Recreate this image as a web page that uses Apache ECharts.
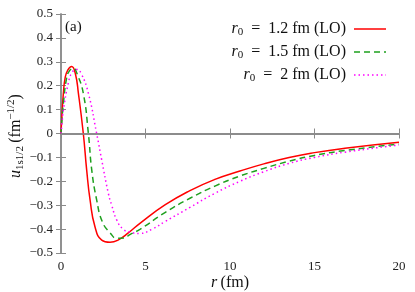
<!DOCTYPE html>
<html><head><meta charset="utf-8">
<script src="https://cdn.jsdelivr.net/npm/echarts@6/dist/echarts.min.js"></script>
<style>html,body{margin:0;padding:0;background:#fff}#c{width:415px;height:292px}</style>
</head><body><div id="c"></div>
<script>
// ---- data ----
const xTicks = [0, 5, 10, 15, 20];
const yTicks = [-0.5, -0.4, -0.3, -0.2, -0.1, 0, 0.1, 0.2, 0.3, 0.4, 0.5];
const seriesNames = ['1.2', '1.5', '2'];

const r_12 = [0, 0.07, 0.14, 0.24, 0.4, 0.63, 0.85, 1.03, 1.32, 1.52, 1.72, 2.01, 2.41, 2.9, 3.4, 4.0, 4.67, 6.15, 7.63, 9.11, 10.59, 12, 13.5, 15, 16.8, 20];
const u_12 = [0, 0.095, 0.168, 0.231, 0.265, 0.28, 0.25, 0.168, 0, -0.153, -0.278, -0.39, -0.446, -0.455, -0.445, -0.415, -0.376, -0.299, -0.239, -0.192, -0.157, -0.127, -0.100, -0.080, -0.062, -0.037];

const r_15 = [0, 0.07, 0.14, 0.33, 0.5, 0.73, 0.95, 1.32, 1.62, 1.82, 2.11, 2.45, 2.9, 3.3, 3.7, 4.1, 4.67, 6.15, 7.63, 9.11, 10.59, 12, 13.5, 15, 16.8, 20];
const u_15 = [0, 0.07, 0.126, 0.231, 0.262, 0.273, 0.25, 0.168, 0, -0.153, -0.278, -0.37, -0.415, -0.438, -0.437, -0.422, -0.401, -0.331, -0.271, -0.22, -0.178, -0.146, -0.116, -0.092, -0.071, -0.044];

const r_20 = [0, 0.07, 0.14, 0.43, 0.65, 0.93, 1.2, 1.62, 2.11, 2.41, 2.8, 3.0, 3.3, 3.67, 4.1, 4.67, 5.4, 6.15, 7.63, 9.11, 10.59, 12, 13.5, 15, 16.8, 20];
const u_20 = [0, 0.052, 0.098, 0.21, 0.255, 0.268, 0.25, 0.168, 0, -0.111, -0.25, -0.3, -0.362, -0.4, -0.413, -0.418, -0.4, -0.369, -0.309, -0.25, -0.2, -0.16, -0.125, -0.1, -0.078, -0.048];

const pair = (xs, ys) => xs.map((x, i) => [x, ys[i]]);
const SERIF = '"Liberation Serif", "DejaVu Serif", serif';
const AX = '#8a8a8a';
const fmtY = v => { const t = Math.abs(v) < 1e-9 ? '0' : v.toFixed(1); return t.replace('-', '\u2212'); };

const chart = echarts.init(document.getElementById('c'), null, {renderer: 'canvas'});
const grid = {left: 61, right: 16, top: 14, bottom: 39};
const axisCommon = {
  axisLine: {show: true, lineStyle: {color: AX, width: 1.5}},
  axisTick: {show: true, inside: true, length: 5, lineStyle: {color: AX, width: 1}},
  splitLine: {show: false}
};
const lineSeries = (name, data, color, dash) => ({
  type: 'line', name: name, data: data, showSymbol: false, smooth: 0.5,
  lineStyle: {color: color, width: 1.5, type: dash}, z: 3, animation: false
});

chart.setOption({
  animation: false,
  grid: grid,
  xAxis: [
    Object.assign({type: 'value', min: 0, max: 20, interval: 5, position: 'bottom',
      axisLabel: {fontFamily: SERIF, fontSize: 13, color: '#222', margin: 7}}, axisCommon),
    Object.assign({type: 'value', min: 0, max: 20, interval: 5, position: 'top',
      axisLabel: {show: false}}, axisCommon)
  ],
  yAxis: [
    Object.assign({type: 'value', min: -0.5, max: 0.5, interval: 0.1, position: 'left',
      axisLabel: {fontFamily: SERIF, fontSize: 13, color: '#222', margin: 8, formatter: fmtY}}, axisCommon),
    Object.assign({type: 'value', min: -0.5, max: 0.5, interval: 0.1, position: 'right',
      axisLabel: {show: false}}, axisCommon)
  ],
  series: [
    {type: 'line', data: [], markLine: {silent: true, symbol: 'none', label: {show: false},
      lineStyle: {color: AX, width: 1.5, type: 'solid'}, data: [{yAxis: 0}], animation: false}, z: 1},
    lineSeries(seriesNames[0], pair(r_12, u_12), '#ff0000', 'solid'),
    lineSeries(seriesNames[1], pair(r_15, u_15), '#1ea01e', [6, 4]),
    lineSeries(seriesNames[2], pair(r_20, u_20), '#ff00ff', [1.5, 3])
  ],
  graphic: [
    {type: 'text', left: 65, top: 20, style: {text: '(a)', font: '15px ' + SERIF, fill: '#111'}},
    {type: 'text', x: 16, y: 136, rotation: Math.PI / 2, style: {
      text: '{i|u}{sub|1s1/2} {n|(fm}{sup|\u22121/2}{n|)}', align: 'center', verticalAlign: 'middle',
      rich: {
        i: {fontFamily: SERIF, fontStyle: 'italic', fontSize: 16, lineHeight: 20, fill: '#111'},
        n: {fontFamily: SERIF, fontSize: 16, lineHeight: 20, fill: '#111'},
        sub: {fontFamily: SERIF, fontSize: 11, lineHeight: 11, verticalAlign: 'bottom', fill: '#111'},
        sup: {fontFamily: SERIF, fontSize: 11, lineHeight: 11, verticalAlign: 'top', fill: '#111'}
      }}},
    {type: 'text', x: 230, y: 283, style: {
      text: '{i|r} {n|(fm)}', align: 'center', verticalAlign: 'middle',
      rich: {
        i: {fontFamily: SERIF, fontStyle: 'italic', fontSize: 16, fill: '#111'},
        n: {fontFamily: SERIF, fontSize: 16, fill: '#111'}
      }}}
  ].concat(seriesNames.map((nm, k) => ({
      type: 'text', x: 346, y: 29 + k * 23, style: {
        text: '{i|r}{sub|0}{n|  =  ' + nm + ' fm (LO)}', align: 'right', verticalAlign: 'middle',
        rich: {
          i: {fontFamily: SERIF, fontStyle: 'italic', fontSize: 16, lineHeight: 18, fill: '#111'},
          n: {fontFamily: SERIF, fontSize: 16, lineHeight: 18, fill: '#111'},
          sub: {fontFamily: SERIF, fontSize: 11, lineHeight: 11, verticalAlign: 'bottom', fill: '#111'}
        }}}))
  ).concat([
    {type: 'line', shape: {x1: 354, y1: 29, x2: 386, y2: 29}, style: {stroke: '#ff0000', lineWidth: 1.5}},
    {type: 'line', shape: {x1: 354, y1: 52, x2: 386, y2: 52}, style: {stroke: '#1ea01e', lineWidth: 1.5, lineDash: [6, 4]}},
    {type: 'line', shape: {x1: 354, y1: 75, x2: 386, y2: 75}, style: {stroke: '#ff00ff', lineWidth: 1.5, lineDash: [1.5, 3]}}
  ])
});
</script></body></html>
